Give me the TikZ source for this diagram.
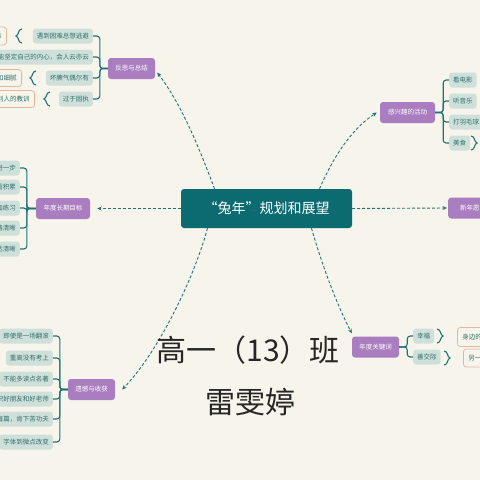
\documentclass[tikz,border=0pt]{standalone}
\usepackage{fontspec}
\newfontfamily\cjk{Noto Sans CJK SC}
\usetikzlibrary{arrows.meta}
\definecolor{bg}{HTML}{F7F5EB}
\definecolor{tealc}{HTML}{0B6B70}
\definecolor{linec}{HTML}{1F7376}
\definecolor{purp}{HTML}{A97DC0}
\definecolor{leaf}{HTML}{CFE0DB}
\definecolor{leaft}{HTML}{2F6F6B}
\definecolor{orng}{HTML}{E3B79F}
\tikzset{
 mainbox/.style={fill=tealc, rounded corners=3pt, text=white, font=\cjk\fontsize{14}{14}\selectfont, minimum width=171pt, minimum height=39pt, inner sep=0pt},
 topic/.style={fill=purp, rounded corners=3pt, text=white, font=\cjk\fontsize{6.5}{6.5}\selectfont, minimum height=21pt, inner xsep=4pt, inner ysep=0pt},
 leafbox/.style={fill=leaf, rounded corners=3pt, text=leaft, font=\cjk\fontsize{6.5}{6.5}\selectfont, minimum height=15pt, inner xsep=4pt, inner ysep=0pt},
 notebox/.style={fill=bg, draw=orng, line width=0.8pt, rounded corners=3pt, text=leaft, font=\cjk\fontsize{6.5}{6.5}\selectfont, minimum height=17pt, inner xsep=5pt, inner ysep=0pt},
 dline/.style={draw=linec, line width=0.9pt, dash pattern=on 3pt off 2pt, -{Stealth[length=4.5pt,width=4pt]}},
 tree/.style={draw=linec, line width=1.1pt, rounded corners=3pt},
 brak/.style={draw=linec, line width=1.1pt},
 hand/.style={text=black!85, font=\cjk\fontsize{30}{30}\selectfont, inner sep=0pt},
}
% left bracket "(" with tick
\newcommand\lbr[2]{\draw[brak] (#1+5,#2-7) .. controls (#1+1,#2-7) and (#1+2,#2-1) .. (#1-1,#2) .. controls (#1+2,#2+1) and (#1+1,#2+7) .. (#1+5,#2+7);}
% right bracket ")" with tick
\newcommand\rbr[2]{\draw[brak] (#1-5,#2-7) .. controls (#1-1,#2-7) and (#1-2,#2-1) .. (#1+1,#2) .. controls (#1-2,#2+1) and (#1-1,#2+7) .. (#1-5,#2+7);}
\begin{document}
\begin{tikzpicture}[x=1pt,y=-1pt]
\useasboundingbox (0,0) rectangle (480,480);
\clip (0,0) rectangle (480,480);
\fill[bg] (0,0) rectangle (480,480);

% centre
\node[mainbox] (C) at (266.5,208.5) {“兔年”规划和展望};

% topics
\node[topic, minimum width=47pt] (P1) at (131.5,68.5) {反思与总结};
\node[topic, minimum width=55pt] (P2) at (407.5,112.5) {感兴趣的活动};
\node[topic, minimum width=54pt] (P3) at (63,208.5) {年度长期目标};
\node[topic, minimum width=50pt, anchor=west] (P4) at (448,208) {新年愿望};
\node[topic, minimum width=47pt] (P5) at (91.5,389.5) {遗憾与收获};
\node[topic, minimum width=47pt] (P6) at (375.5,347) {年度关键词};

% dashed connectors
\draw[dline] ([xshift=-52pt]C.north) .. controls (200,150) and (182,105) .. ([shift={(2,4)}]P1.east);
\draw[dline] ([xshift=53pt]C.north) .. controls (332,160) and (350,130) .. ([xshift=-3pt]P2.west);
\draw[dline] (C.west) -- ([xshift=7pt]P3.east);
\draw[dline] (C.east) -- ([xshift=-1pt]P4.west);
\draw[dline] ([xshift=-59pt]C.south) .. controls (195,275) and (160,350) .. ([xshift=7pt]P5.east);
\draw[dline] ([xshift=45pt]C.south) .. controls (322,265) and (337,305) .. ([shift={(0,-3)}]P6.north west);

% group 1: reflection
\node[leafbox, anchor=east] (a1) at (93,36) {遇到困难总想逃避};
\node[leafbox, anchor=east] (a2) at (93,57) {不能坚定自己的内心，会人云亦云};
\node[leafbox, anchor=east] (a3) at (93,78) {坏脾气偶尔有};
\node[leafbox, anchor=east] (a4) at (93,99) {过于固执};
\foreach \n in {a1,a2,a3,a4} \draw[tree] (P1.west) -- ++(-8,0) |- (\n.east);
\node[notebox, anchor=east, minimum height=18pt] (n1) at (7,36) {勇敢面对困难};
\node[notebox, anchor=east] (n3) at (22,78) {变得温和细腻};
\node[notebox, anchor=east] (n4) at (35,99) {吸取别人的教训};
\lbr{17}{36}
\lbr{31}{78}
\lbr{45}{99}

% group 2: interests
\node[leafbox, anchor=west] (b1) at (449,80) {看电影};
\node[leafbox, anchor=west] (b2) at (449,101) {听音乐};
\node[leafbox, anchor=west] (b3) at (449,122) {打羽毛球};
\node[leafbox, anchor=west] (b4) at (449,143) {美食};
\foreach \n in {b1,b2,b3,b4} \draw[tree] (P2.east) -- ++(8,0) |- (\n.west);
\rbr{476}{143}

% group 3: long-term goals
\node[leafbox, anchor=east] (c1) at (20,168) {更进一步};
\node[leafbox, anchor=east] (c2) at (20,187) {注重积累};
\node[leafbox, anchor=east] (c3) at (20,208) {多加练习};
\node[leafbox, anchor=east] (c4) at (20,228) {思路清晰};
\node[leafbox, anchor=east] (c5) at (20,249) {表达清晰};
\foreach \n in {c1,c2,c3,c4,c5} \draw[tree] (P3.west) -- ++(-9,0) |- (\n.east);

% group 5: regrets and gains
\node[leafbox, anchor=east] (d1) at (53,336) {即使是一场翻滚};
\node[leafbox, anchor=east] (d2) at (53,358) {重高没有考上};
\node[leafbox, anchor=east] (d3) at (53,379) {不能多读点名著};
\node[leafbox, anchor=east] (d4) at (53,399) {认识好朋友和好老师};
\node[leafbox, anchor=east] (d5) at (53,419) {写好每篇，肯下苦功夫};
\node[leafbox, anchor=east] (d6) at (53,442) {字体到微点改变};
\foreach \n in {d1,d2,d3,d4,d5,d6} \draw[tree] (P5.west) -- ++(-8,0) |- (\n.east);

% group 6: keywords
\node[leafbox, anchor=west] (e1) at (413,336) {幸福};
\node[leafbox, anchor=west] (e2) at (413,357) {善交际};
\foreach \n in {e1,e2} \draw[tree] (P6.east) -- ++(8,0) |- (\n.west);
\rbr{442}{336}
\rbr{449}{358}
\node[notebox, anchor=west, minimum height=19pt] (m1) at (457,337) {身边的人};
\node[notebox, anchor=west, minimum height=18pt] (m2) at (463,358) {另一半};

% handwriting
\node[hand] (h1) at (248,350) {高一（13）班};
\node[hand] (h2) at (250,402) {雷雯婷};
\end{tikzpicture}
\end{document}
